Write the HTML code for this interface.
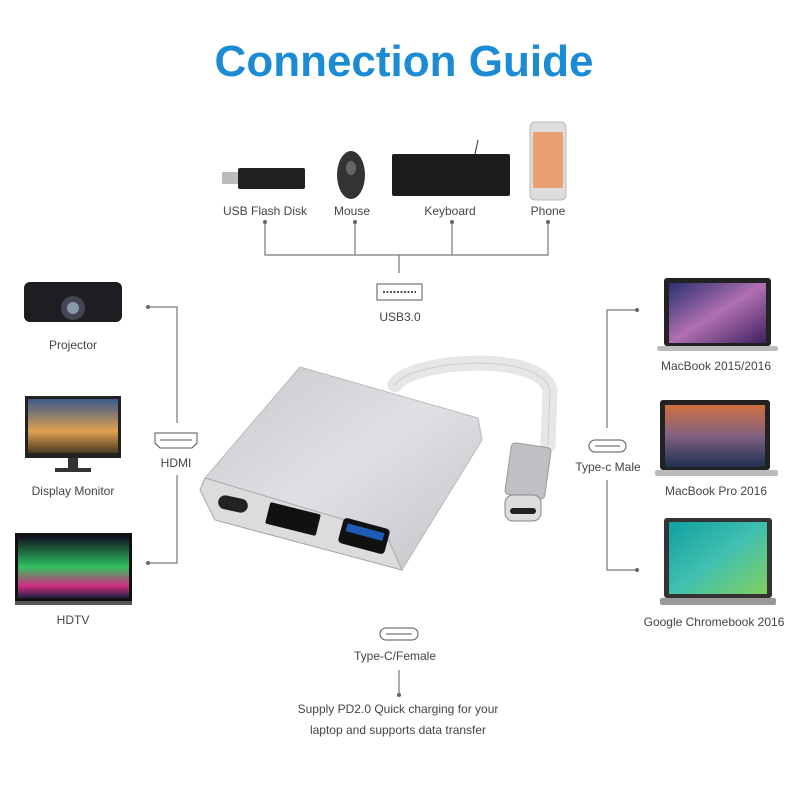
<!DOCTYPE html>
<html><head><meta charset="utf-8"><style>
body{margin:0;background:#fff}
svg text{font-family:"Liberation Sans",sans-serif;fill:#444;font-size:12px}
</style></head><body>
<svg width="800" height="800" viewBox="0 0 800 800" xmlns="http://www.w3.org/2000/svg">
<defs>
<linearGradient id="sky" x1="0" y1="0" x2="0" y2="1"><stop offset="0" stop-color="#3a5a8a"/><stop offset=".6" stop-color="#e0a050"/><stop offset="1" stop-color="#4a3a20"/></linearGradient>
<linearGradient id="mac" x1="0" y1="0" x2="1" y2="1"><stop offset="0" stop-color="#2a3070"/><stop offset=".5" stop-color="#b070b0"/><stop offset="1" stop-color="#402060"/></linearGradient>
<linearGradient id="aur" x1="0" y1="0" x2="0" y2="1"><stop offset="0" stop-color="#101020"/><stop offset=".5" stop-color="#30c060"/><stop offset=".8" stop-color="#d03080"/><stop offset="1" stop-color="#202040"/></linearGradient>
<linearGradient id="mtn" x1="0" y1="0" x2="0" y2="1"><stop offset="0" stop-color="#d07040"/><stop offset=".5" stop-color="#806080"/><stop offset="1" stop-color="#203050"/></linearGradient>
<linearGradient id="chr" x1="0" y1="0" x2="1" y2="1"><stop offset="0" stop-color="#10a0a0"/><stop offset=".5" stop-color="#40c0b0"/><stop offset="1" stop-color="#80d060"/></linearGradient>
<linearGradient id="alu" x1="0" y1="0" x2="1" y2="1"><stop offset="0" stop-color="#c8c8cc"/><stop offset=".5" stop-color="#e0e0e4"/><stop offset="1" stop-color="#c4c4c8"/></linearGradient>
</defs>
<text x="404" y="76" text-anchor="middle" style="font-size:44px;font-weight:bold;fill:#1b8bd6">Connection Guide</text>

<rect x="222" y="172" width="18" height="12" fill="#bbb"/><rect x="238" y="168" width="67" height="21" rx="2" fill="#222"/>
<ellipse cx="351" cy="175" rx="14" ry="24" fill="#333"/><ellipse cx="351" cy="168" rx="5" ry="7" fill="#666"/>
<rect x="392" y="154" width="118" height="42" rx="2" fill="#1c1c1c"/><line x1="475" y1="154" x2="478" y2="140" stroke="#333"/>
<rect x="530" y="122" width="36" height="78" rx="5" fill="#ddd" stroke="#bbb"/><rect x="533" y="132" width="30" height="56" fill="#e8a070"/>
<text x="265" y="215" text-anchor="middle">USB Flash Disk</text>
<text x="352" y="215" text-anchor="middle">Mouse</text>
<text x="450" y="215" text-anchor="middle">Keyboard</text>
<text x="548" y="215" text-anchor="middle">Phone</text>
<g stroke="#777" stroke-width="1.2" fill="none">
<path d="M265 222V255H548V222M355 222V255M452 222V255M399 255V273"/>
<path d="M148 307H177V423M177 475V563H148"/>
<path d="M637 310H607V428M607 480V570H637"/>
<path d="M399 670V695"/>
</g>
<g fill="#666"><circle cx="265" cy="222" r="2"/><circle cx="355" cy="222" r="2"/><circle cx="452" cy="222" r="2"/><circle cx="548" cy="222" r="2"/>
<circle cx="148" cy="307" r="2"/><circle cx="148" cy="563" r="2"/><circle cx="637" cy="310" r="2"/><circle cx="637" cy="570" r="2"/><circle cx="399" cy="695" r="2"/></g>
<rect x="377" y="284" width="45" height="16" fill="none" stroke="#555"/><line x1="383" y1="292" x2="416" y2="292" stroke="#555" stroke-dasharray="2 1.5" stroke-width="2"/>
<text x="400" y="321" text-anchor="middle">USB3.0</text>
<path d="M155 433H197V443L192 448H160L155 443Z" fill="none" stroke="#555"/><line x1="160" y1="440" x2="192" y2="440" stroke="#555"/>
<text x="176" y="467" text-anchor="middle">HDMI</text>
<rect x="589" y="440" width="37" height="12" rx="6" fill="none" stroke="#555"/><line x1="595" y1="446" x2="620" y2="446" stroke="#555"/>
<text x="608" y="471" text-anchor="middle">Type-c Male</text>
<rect x="380" y="628" width="38" height="12" rx="6" fill="none" stroke="#555"/><line x1="386" y1="634" x2="412" y2="634" stroke="#555"/>
<text x="395" y="660" text-anchor="middle">Type-C/Female</text>
<text x="398" y="713" text-anchor="middle">Supply PD2.0 Quick charging for your</text>
<text x="398" y="734" text-anchor="middle">laptop and supports data transfer</text>

<rect x="24" y="282" width="98" height="40" rx="6" fill="#1e1e22"/><circle cx="73" cy="308" r="12" fill="#445"/><circle cx="73" cy="308" r="6" fill="#89a"/>
<text x="73" y="349" text-anchor="middle">Projector</text>
<rect x="25" y="396" width="96" height="62" fill="#222"/><rect x="28" y="399" width="90" height="54" fill="url(#sky)"/><rect x="68" y="458" width="10" height="10" fill="#333"/><rect x="55" y="468" width="36" height="4" fill="#333"/>
<text x="73" y="495" text-anchor="middle">Display Monitor</text>
<rect x="15" y="533" width="117" height="68" fill="#111"/><rect x="18" y="536" width="111" height="62" fill="url(#aur)"/><rect x="15" y="601" width="117" height="4" fill="#555"/>
<text x="73" y="624" text-anchor="middle">HDTV</text>

<rect x="664" y="278" width="107" height="68" rx="3" fill="#222"/><rect x="669" y="283" width="97" height="60" fill="url(#mac)"/><rect x="657" y="346" width="121" height="5" rx="2" fill="#bbb"/>
<text x="716" y="370" text-anchor="middle">MacBook 2015/2016</text>
<rect x="660" y="400" width="110" height="70" rx="3" fill="#222"/><rect x="665" y="405" width="100" height="62" fill="url(#mtn)"/><rect x="655" y="470" width="123" height="6" rx="2" fill="#bbb"/>
<text x="716" y="495" text-anchor="middle">MacBook Pro 2016</text>
<rect x="664" y="518" width="108" height="80" rx="3" fill="#333"/><rect x="669" y="522" width="98" height="72" fill="url(#chr)"/><rect x="660" y="598" width="116" height="7" rx="2" fill="#999"/>
<text x="714" y="626" text-anchor="middle">Google Chromebook 2016</text>

<path d="M395 385C410 360 540 350 550 390L548 445" fill="none" stroke="#e6e6e6" stroke-width="15" stroke-linecap="round"/>
<path d="M395 385C410 360 540 350 550 390L548 445" fill="none" stroke="#ccc" stroke-width="1"/>
<path d="M300 367L478 418L482 440L402 570L215 520L200 490L205 478Z" fill="url(#alu)" stroke="#bbb"/>
<path d="M205 478L385 532L402 570L215 520L200 490Z" fill="#dcdcde" stroke="#aaa"/>
<rect x="218" y="497" width="30" height="14" rx="7" fill="#222" transform="rotate(12 233 504)"/>
<rect x="267" y="508" width="52" height="22" rx="2" fill="#111" transform="rotate(14 293 519)"/>
<rect x="340" y="523" width="48" height="26" rx="4" fill="#111" transform="rotate(15 364 536)"/><rect x="345" y="528" width="38" height="8" fill="#1e5bb5" transform="rotate(15 364 536)"/>
<rect x="508" y="445" width="40" height="52" rx="4" fill="#c0c0c4" stroke="#999" transform="rotate(8 528 471)"/>
<rect x="505" y="495" width="36" height="26" rx="8" fill="#ddd" stroke="#888"/><rect x="510" y="508" width="26" height="6" rx="3" fill="#222"/>
</svg>
</body></html>
